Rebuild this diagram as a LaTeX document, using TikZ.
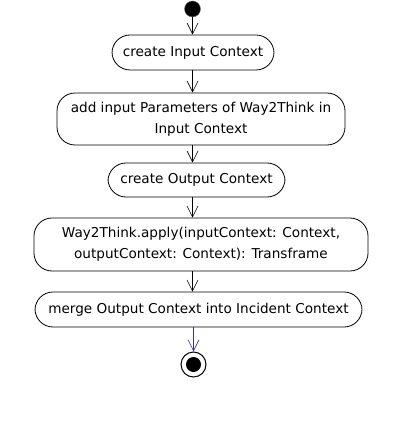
\documentclass[tikz,border=0pt]{standalone}
\usepackage{fontspec}
\setmainfont{DejaVu Sans}
\usetikzlibrary{arrows.meta}

\begin{document}
\begin{tikzpicture}[x=1pt, y=-1pt,
    actnode/.style={draw=black, line width=0.8pt, rounded corners=18pt, align=center,
        inner sep=0pt, font=\fontsize{13.6}{21}\selectfont},
    flow/.style={-{Straight Barb[length=11pt, width=11pt]}, line width=0.6pt},
    startnode/.style={circle, fill=black, draw=black!55, minimum size=16pt, inner sep=0pt},
    endnode/.style={circle, draw=black, line width=1pt, minimum size=25pt, inner sep=0pt,
        path picture={\fill[black] (path picture bounding box.center) circle (7.5pt);}}]
    \useasboundingbox (0,0) rectangle (400,438);
    %Nodes
    \node[startnode]        (start) at (192.5,9)   {};
    \node[actnode, minimum width=162pt, minimum height=35pt] (b1) at (193,52.5)  {create Input Context};
    \node[actnode, minimum width=288pt, minimum height=52pt] (b2) at (201,119)   {add input Parameters of Way2Think in\\Input Context};
    \node[actnode, minimum width=177pt, minimum height=34pt] (b3) at (196.5,180) {create Output Context};
    \node[actnode, minimum width=334pt, minimum height=53pt] (b4) at (201,244.5) {Way2Think.apply(inputContext: Context,\\outputContext: Context): Transframe};
    \node[actnode, minimum width=327pt, minimum height=35pt] (b5) at (198.5,309.5) {merge Output Context into Incident Context};
    \node[endnode]          (end)   at (193.5,364.5) {};

    %Lines
    \draw[flow] (start) -- (b1.north -| start);
    \draw[flow] (b1.south -| start) -- (b2.north -| start);
    \draw[flow] (b2.south -| start) -- (b3.north -| start);
    \draw[flow] (b3.south -| start) -- (b4.north -| start);
    \draw[flow] (b4.south -| start) -- (b5.north -| start);
    \draw[flow, draw={rgb,255:red,51;green,51;blue,170}] (b5.south -| end) -- (end);
\end{tikzpicture}
\end{document}
